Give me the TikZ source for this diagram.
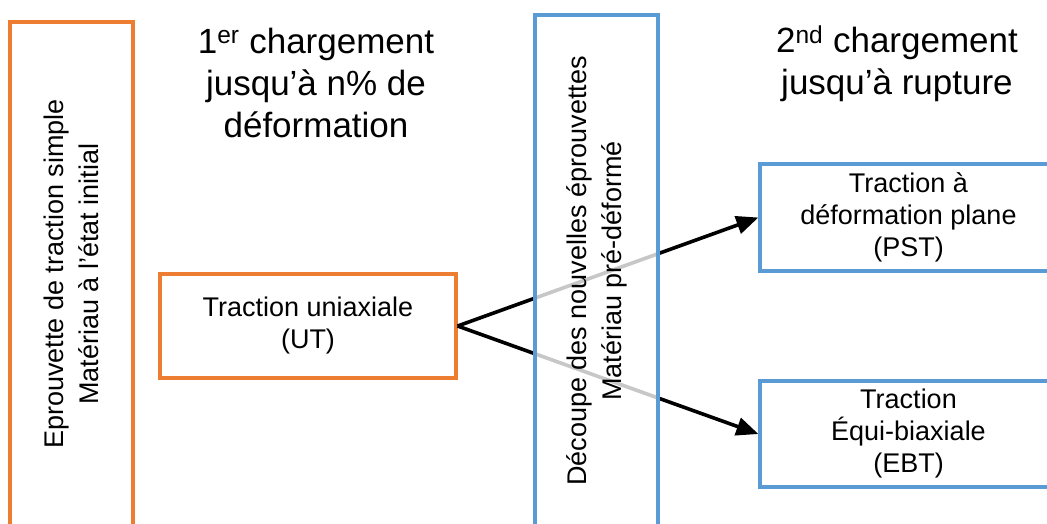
\documentclass[tikz,border=0pt]{standalone}
\usepackage{fontspec}
\setmainfont{Liberation Sans}
\usetikzlibrary{arrows.meta}
\definecolor{orangeoffice}{RGB}{237,125,49}
\definecolor{bleuoffice}{RGB}{91,155,213}

\begin{document}
\begin{tikzpicture}[x=1pt, y=-1pt, >=latex]

% --- Styles ---
\tikzset{
    boiteO/.style={draw=orangeoffice, line width=3.2pt, inner sep=0pt, align=center, font=\fontsize{27}{32}\selectfont},
    boiteB/.style={draw=bleuoffice, line width=3.2pt, inner sep=0pt, align=center, font=\fontsize{27}{32}\selectfont},
    vertical/.style={rotate=90, minimum height=123pt, font=\fontsize{27}{35}\selectfont},
    titre/.style={inner sep=0pt, align=center, font=\fontsize{35}{42}\selectfont},
    fleche/.style={-{Triangle[length=22pt, width=18pt]}, line width=3.6pt, draw=black}
}

    % Cadre de l'image
    \useasboundingbox (0,0) rectangle (1047,523);
    \clip (0,0) rectangle (1047,523);

    % Eprouvette initiale
    \node[boiteO, vertical, minimum width=504pt] (eprouvette) at (71.5, 274) {Eprouvette de traction simple\\Matériau à l’état initial};

    % Titres des deux chargements
    \node[titre] (titreun) at (316, 82.5) {1\textsuperscript{er} chargement\\jusqu’à n\% de\\déformation};
    \node[titre] (titredeux) at (897, 63.5) {2\textsuperscript{nd} chargement\\jusqu’à rupture};

    % Premier chargement
    \node[boiteO, minimum width=296pt, minimum height=104pt] (ut) at (308, 326) {Traction uniaxiale\\(UT)};

    % Second chargement
    \node[boiteB, minimum width=297pt, minimum height=107pt] (pst) at (908.5, 217.5) {Traction à\\déformation plane\\(PST)};
    \node[boiteB, minimum width=297pt, minimum height=106pt] (ebt) at (908.5, 434) {Traction\\Équi-biaxiale\\(EBT)};

    % Fleches UT vers PST et EBT
    \draw[fleche] (ut.east) -- (pst.west);
    \draw[fleche] (ut.east) -- (ebt.west);

    % Decoupe (par-dessus les fleches, fond semi-transparent)
    \node[boiteB, vertical, minimum width=512pt, fill=white, fill opacity=0.78, text opacity=1] (decoupe) at (596.5, 271) {Découpe des nouvelles éprouvettes\\Matériau pré-déformé};

\end{tikzpicture}
\end{document}
